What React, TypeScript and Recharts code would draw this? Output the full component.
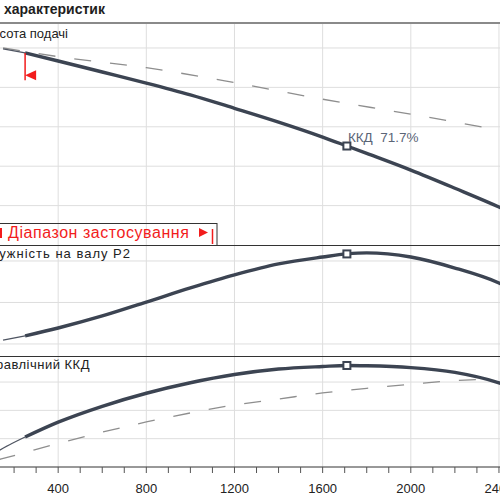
import React from 'react'
import { ComposedChart, Line, Scatter, XAxis, YAxis, CartesianGrid, ReferenceLine } from 'recharts'

// flow axis (m³/h)
const flowTicks = [0, 400, 800, 1200, 1600, 2000, 2400]
const flowMinorTicks = [
  0, 100, 200, 300, 400, 500, 600, 700, 800, 900, 1000, 1100, 1200,
  1300, 1400, 1500, 1600, 1700, 1800, 1900, 2000, 2100, 2200, 2300, 2400, 2500,
]
const rangeStart = 250
const bepFlow = 1710
const bepLabel = 'ККД  71.7%'

// main curves, inside the application range
const flow = [250, 400, 600, 800, 1000, 1200, 1400, 1600, 1710, 1800, 2000, 2200, 2400, 2500]
const head = [24.37, 23.35, 21.95, 20.55, 19.05, 17.35, 15.6, 13.7, 12.56, 11.62, 9.5, 7.2, 4.82, 3.52]
const power = [1.39, 1.77, 2.35, 3.02, 3.7, 4.33, 4.86, 5.19, 5.34, 5.39, 5.19, 4.66, 3.94, 3.41]
const efficiency = [21.2, 31.7, 42.9, 52.1, 59.5, 65.3, 69.2, 71.0, 71.7, 71.5, 70.2, 66.8, 59.5, 54.0]

// thin parts below the range
const headLowFlow = [150, 250]
const headLow = [24.9, 24.37]
const powerLowFlow = [150, 250]
const powerLow = [1.19, 1.39]
const effLowFlow = [130, 190, 250]
const effLow = [11.5, 16.6, 21.2]

// dashed comparison curves
const headRefFlow = [150, 400, 800, 1200, 1600, 2000, 2350, 2500]
const headRef = [25.0, 23.9, 22.5, 20.6, 18.5, 16.6, 14.85, 14.1]
const effRefFlow = [130, 200, 400, 600, 800, 1000, 1200, 1400, 1600, 1800, 2000, 2200, 2330]
const effRef = [5.2, 8.1, 16.6, 24.6, 31.8, 38.2, 43.8, 48.0, 52.3, 55.6, 58.4, 61.0, 61.9]

const headGrid = [5, 10, 15, 20, 25]
const powerGrid = [1, 2, 3, 4, 5]
const effGrid = [20, 40, 60]

const pts = (xs: number[], ys: number[]) => xs.map((q, i) => ({ q, v: ys[i] }))
const at = (ys: number[], q: number) => ys[flow.indexOf(q)]

const CURVE = '#3c4452'
const THIN = '#4f5562'
const DASH = '#8e8e8e'
const GRID = '#dedede'
const RED = '#f21c1c'
const FONT = '"Liberation Sans", Arial, sans-serif'

const W = 551
const LEFT = -30

function Square(props: any) {
  const { cx, cy, label } = props
  return (
    <g>
      <rect x={cx - 3.5} y={cy - 3.5} width={7} height={7} fill="#fff" stroke={CURVE} strokeWidth={2} />
      {label && (
        <text x={cx + 1} y={cy - 4} fontSize={13.5} fill="#5b6577" fontFamily={FONT} style={{ whiteSpace: 'pre' }}>
          {label}
        </text>
      )}
    </g>
  )
}

function RangeArrow(props: any) {
  const vb = props.viewBox || {}
  const x = vb.x ?? 0
  const y = (vb.y ?? 0) + (vb.height ?? 0) - 5
  return <polygon points={`${x},${y} ${x + 11},${y - 5} ${x + 11},${y + 5}`} fill={RED} />
}

const xHidden = <XAxis dataKey="q" type="number" domain={[0, 2500]} ticks={flowTicks} hide />

export default function App() {
  return (
    <div
      style={{
        position: 'absolute',
        left: 0,
        top: 0,
        width: 500,
        height: 500,
        overflow: 'hidden',
        background: '#fff',
        fontFamily: FONT,
      }}
    >
      {/* head */}
      <div style={{ position: 'absolute', left: LEFT, top: 23 }}>
        <ComposedChart width={W} height={222} margin={{ top: 0, right: 0, bottom: 0, left: 0 }}>
          <CartesianGrid stroke={GRID} horizontalValues={headGrid} verticalValues={flowTicks} />
          {xHidden}
          <YAxis type="number" domain={[0, 28.17]} hide />
          <Line data={pts(headRefFlow, headRef)} dataKey="v" type="monotone" stroke={DASH} strokeWidth={1.3}
            strokeDasharray="17 19" dot={false} isAnimationActive={false} />
          <Line data={pts(headLowFlow, headLow)} dataKey="v" type="monotone" stroke={THIN} strokeWidth={1.3}
            dot={false} isAnimationActive={false} />
          <Line data={pts(flow, head)} dataKey="v" type="monotone" stroke={CURVE} strokeWidth={3.4}
            dot={false} isAnimationActive={false} />
          <ReferenceLine
            segment={[{ x: rangeStart, y: at(head, rangeStart) }, { x: rangeStart, y: 20.9 }]}
            stroke={RED}
            strokeWidth={1.5}
            label={<RangeArrow />}
          />
          <Scatter data={[{ q: bepFlow, v: at(head, bepFlow) }]} dataKey="v" isAnimationActive={false}
            shape={(p: any) => <Square {...p} label={bepLabel} />} />
        </ComposedChart>
      </div>

      {/* power */}
      <div style={{ position: 'absolute', left: LEFT, top: 245 }}>
        <ComposedChart width={W} height={111} margin={{ top: 0, right: 0, bottom: 0, left: 0 }}>
          <CartesianGrid stroke={GRID} horizontalValues={powerGrid} verticalValues={flowTicks} />
          {xHidden}
          <YAxis type="number" domain={[0.42, 5.77]} hide />
          <Line data={pts(powerLowFlow, powerLow)} dataKey="v" type="monotone" stroke={THIN} strokeWidth={1.3}
            dot={false} isAnimationActive={false} />
          <Line data={pts(flow, power)} dataKey="v" type="monotone" stroke={CURVE} strokeWidth={3.4}
            dot={false} isAnimationActive={false} />
          <Scatter data={[{ q: bepFlow, v: at(power, bepFlow) }]} dataKey="v" isAnimationActive={false}
            shape={(p: any) => <Square {...p} />} />
        </ComposedChart>
      </div>

      {/* efficiency + flow axis */}
      <div style={{ position: 'absolute', left: LEFT, top: 356 }}>
        <ComposedChart width={W} height={144} margin={{ top: 0, right: 0, bottom: 0, left: 0 }}>
          <CartesianGrid stroke={GRID} horizontalValues={effGrid} verticalValues={flowTicks} />
          <XAxis
            dataKey="q"
            type="number"
            domain={[0, 2500]}
            ticks={flowMinorTicks}
            interval={0}
            height={33}
            tickSize={6}
            tickMargin={11}
            tickFormatter={(v: number) => (flowTicks.includes(v) ? String(v) : '')}
            axisLine={{ stroke: '#333' }}
            tickLine={{ stroke: '#555' }}
            tick={{ fontSize: 13, fill: '#222', fontFamily: FONT }}
          />
          <YAxis type="number" domain={[0, 78.4]} hide />
          <Line data={pts(effRefFlow, effRef)} dataKey="v" type="monotone" stroke={DASH} strokeWidth={1.3}
            strokeDasharray="17 19" dot={false} isAnimationActive={false} />
          <Line data={pts(effLowFlow, effLow)} dataKey="v" type="monotone" stroke={THIN} strokeWidth={1.3}
            dot={false} isAnimationActive={false} />
          <Line data={pts(flow, efficiency)} dataKey="v" type="monotone" stroke={CURVE} strokeWidth={3.4}
            dot={false} isAnimationActive={false} />
          <Scatter data={[{ q: bepFlow, v: at(efficiency, bepFlow) }]} dataKey="v" isAnimationActive={false}
            shape={(p: any) => <Square {...p} />} />
        </ComposedChart>
      </div>

      {/* frame, titles, application range box */}
      <svg width={500} height={500} style={{ position: 'absolute', left: 0, top: 0, pointerEvents: 'none' }}>
        <text x={4} y={14} fontSize={14} fontWeight="bold" fill="#1e1e1e" fontFamily={FONT}>характеристик</text>
        <line x1={0} x2={500} y1={23} y2={23} stroke="#8a8a8a" strokeWidth={2} />
        <line x1={0} x2={500} y1={245.5} y2={245.5} stroke="#333" strokeWidth={1} />
        <line x1={0} x2={500} y1={356.5} y2={356.5} stroke="#333" strokeWidth={1} />
        <text x={68} y={38} textAnchor="end" fontSize={13} fill="#222" fontFamily={FONT}>Висота подачі</text>
        <text x={131} y={258} textAnchor="end" fontSize={13} letterSpacing={1} fill="#222" fontFamily={FONT}>
          Потужність на валу P2
        </text>
        <text x={90} y={369} textAnchor="end" fontSize={13} letterSpacing={0.5} fill="#222" fontFamily={FONT}>
          Гідравлічний ККД
        </text>
        <rect x={-10} y={223.5} width={227} height={22} fill="none" stroke="#333" strokeWidth={1} />
        <line x1={1} x2={1} y1={228} y2={238} stroke={RED} strokeWidth={2} />
        <text x={8} y={238} fontSize={16} letterSpacing={0.55} fill={RED} fontFamily={FONT}>Діапазон застосування</text>
        <polygon points="199,228 199,237 208,232.5" fill={RED} />
        <line x1={212.5} x2={212.5} y1={229} y2={244} stroke={RED} strokeWidth={1.5} />
      </svg>
    </div>
  )
}
